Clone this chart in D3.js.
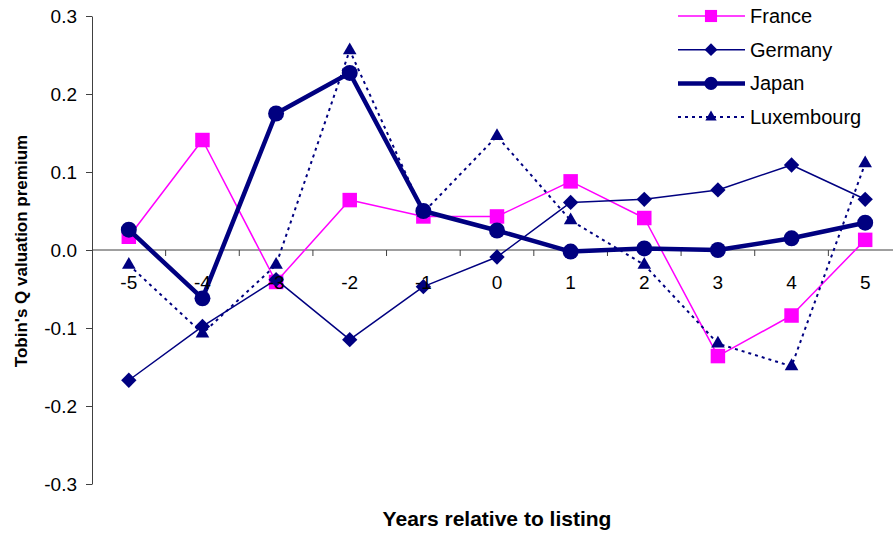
<!DOCTYPE html>
<html>
<head>
<meta charset="utf-8">
<script src="https://cdn.jsdelivr.net/npm/d3@7"></script>
<style>
  html, body { margin: 0; padding: 0; background: #fff; }
  svg { display: block; font-family: Arial, "Liberation Sans", sans-serif; }
</style>
</head>
<body>
<svg id="chart" width="893" height="535"></svg>
<script>
// Years relative to listing
const years = [-5, -4, -3, -2, -1, 0, 1, 2, 3, 4, 5];
const yTicks = [-0.3, -0.2, -0.1, 0.0, 0.1, 0.2, 0.3];

// Tobin's Q valuation premium by country
const france     = [0.017, 0.141, -0.041, 0.064, 0.043, 0.043, 0.088, 0.041, -0.136, -0.084, 0.013];
const germany    = [-0.167, -0.098, -0.038, -0.115, -0.047, -0.009, 0.061, 0.065, 0.077, 0.109, 0.065];
const japan      = [0.026, -0.062, 0.175, 0.227, 0.050, 0.025, -0.002, 0.002, 0.000, 0.015, 0.035];
const luxembourg = [-0.019, -0.107, -0.019, 0.256, 0.048, 0.146, 0.038, -0.019, -0.120, -0.149, 0.111];

const seriesNames = ["France", "Germany", "Japan", "Luxembourg"];

const series = [
  { name: seriesNames[0], values: france,     color: "#ff00ff", width: 1.5, dash: null,  symbol: d3.symbolSquare,   size: 210 },
  { name: seriesNames[1], values: germany,    color: "#000080", width: 1.5, dash: null,  symbol: d3.symbolDiamond2, size: 150 },
  { name: seriesNames[2], values: japan,      color: "#000080", width: 4.5, dash: null,  symbol: d3.symbolCircle,   size: 200 },
  { name: seriesNames[3], values: luxembourg, color: "#000080", width: 2,   dash: "3,4", symbol: d3.symbolTriangle, size: 80 }
];

const svg = d3.select("#chart");
const plotLeft = 92, plotRight = 902, plotTop = 16, plotBottom = 484;

const x = d3.scaleBand().domain(years).range([plotLeft, plotRight]).padding(0);
const y = d3.scaleLinear().domain([-0.3, 0.3]).range([plotBottom, plotTop]);
const cx = d => x(d) + x.bandwidth() / 2;

// Plain hyphen for negative numbers
const fmt = d3.formatLocale({ decimal: ".", thousands: ",", grouping: [3], currency: ["", ""], minus: "-" }).format(".1f");

// Y axis
const yAxis = svg.append("g")
  .attr("transform", `translate(${plotLeft},0)`)
  .call(d3.axisLeft(y).tickValues(yTicks).tickFormat(fmt).tickSize(6).tickSizeOuter(0));
yAxis.select(".domain").attr("stroke", "#404040");
yAxis.selectAll(".tick line").attr("stroke", "#404040");
yAxis.selectAll(".tick text")
  .attr("x", -15)
  .attr("font-size", 19)
  .attr("fill", "#000")
  .attr("font-family", "Arial, 'Liberation Sans', sans-serif");

// X axis along zero line, ticks between categories
const xAxis = svg.append("g")
  .attr("transform", `translate(0,${y(0)})`);
xAxis.append("line")
  .attr("x1", plotLeft).attr("x2", plotRight)
  .attr("stroke", "#404040").attr("stroke-width", 1);
xAxis.selectAll("line.tk")
  .data(years.slice(1))
  .join("line")
  .attr("class", "tk")
  .attr("x1", d => x(d)).attr("x2", d => x(d))
  .attr("y1", 0).attr("y2", 6)
  .attr("stroke", "#404040");

// Series lines and markers
const line = d3.line()
  .x((d, i) => cx(years[i]))
  .y(d => y(d));

series.forEach(s => {
  const g = svg.append("g");
  g.append("path")
    .datum(s.values)
    .attr("d", line)
    .attr("fill", "none")
    .attr("stroke", s.color)
    .attr("stroke-width", s.width)
    .attr("stroke-dasharray", s.dash)
    .attr("stroke-linejoin", "round");
  g.selectAll("path.m")
    .data(s.values)
    .join("path")
    .attr("class", "m")
    .attr("d", d3.symbol().type(s.symbol).size(s.size))
    .attr("transform", (d, i) => `translate(${cx(years[i])},${y(d)})`)
    .attr("fill", s.color);
});

// Category labels drawn over the marks
svg.append("g")
  .selectAll("text")
  .data(years)
  .join("text")
  .attr("x", d => cx(d))
  .attr("y", y(0) + 39)
  .attr("text-anchor", "middle")
  .attr("font-size", 19)
  .attr("fill", "#000")
  .text(d => d);

// Axis titles
svg.append("text")
  .attr("transform", `translate(27,251) rotate(-90)`)
  .attr("text-anchor", "middle")
  .attr("font-size", 17)
  .attr("font-weight", "bold")
  .text("Tobin's Q valuation premium");

svg.append("text")
  .attr("x", 497)
  .attr("y", 526)
  .attr("text-anchor", "middle")
  .attr("font-size", 21)
  .attr("font-weight", "bold")
  .text("Years relative to listing");

// Legend
const legend = svg.append("g");
series.forEach((s, i) => {
  const ly = 16 + i * 33.7;
  const row = legend.append("g").attr("transform", `translate(0,${ly})`);
  row.append("line")
    .attr("x1", 678).attr("x2", 745)
    .attr("stroke", s.color)
    .attr("stroke-width", s.width)
    .attr("stroke-dasharray", s.dash);
  row.append("path")
    .attr("d", d3.symbol().type(s.symbol).size(s.size * 0.7))
    .attr("transform", "translate(711,0)")
    .attr("fill", s.color);
  row.append("text")
    .attr("x", 750)
    .attr("y", 7)
    .attr("font-size", 20)
    .attr("fill", "#000")
    .text(s.name);
});
</script>
</body>
</html>
